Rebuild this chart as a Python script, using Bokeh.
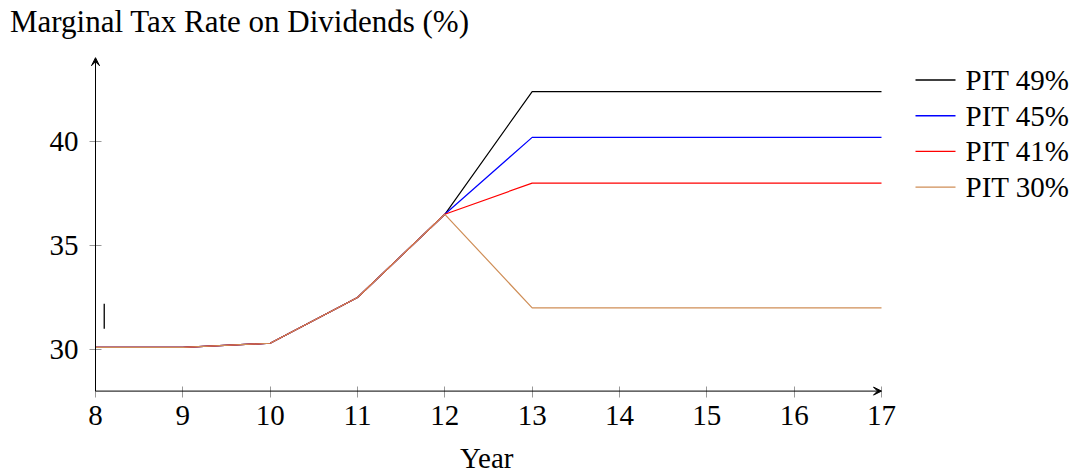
from bokeh.plotting import figure
from bokeh.models import (Range1d, FixedTicker, Arrow, VeeHead, Div)
from bokeh.core.properties import value
from bokeh.layouts import column
from bokeh.embed import file_html
from bokeh.resources import INLINE

years = [8, 9, 10, 11, 12, 13, 14, 15, 16, 17]
pit49 = [30.1, 30.1, 30.3, 32.5, 36.5, 42.4, 42.4, 42.4, 42.4, 42.4]
pit45 = [30.1, 30.1, 30.3, 32.5, 36.5, 40.2, 40.2, 40.2, 40.2, 40.2]
pit41 = [30.1, 30.1, 30.3, 32.5, 36.5, 38.0, 38.0, 38.0, 38.0, 38.0]
pit30 = [30.1, 30.1, 30.3, 32.5, 36.5, 32.0, 32.0, 32.0, 32.0, 32.0]
series_names = ["PIT 49%", "PIT 45%", "PIT 41%", "PIT 30%"]
series_colors = ["#000000", "#0000FF", "#FF0000", "#CF8E57"]
x_ticks = [8, 9, 10, 11, 12, 13, 14, 15, 16, 17]
y_ticks = [30, 35, 40]
stray_x = [8.1]
stray_y0 = [31.0]
stray_y1 = [32.2]
title_text = "Marginal Tax Rate on Dividends (%)"
x_label = "Year"

FONT = "Liberation Serif"
FS = "29px"

W = 1074
TITLE_H = 45
FIG_TOP = TITLE_H
FIG_BOTTOM = 440
x_min, x_max = 8, 17
y_min, y_top = 28, 44.03
px_x = 786 / 9.0
px_y = 20.8
F_LEFT, F_TOP, F_BOTTOM = 90, 53, 396
# legend layout (page pixels)
LEG_X0, LEG_X1, LEG_TX = 915, 955, 965
LEG_ROW0, ROW_H = 79.5, 35.7


def px_to_x(px):
    return x_min + (px - 95) / px_x


def py_to_y(py):
    return 30 + (349 - py) / px_y


p = figure(width=W, height=FIG_BOTTOM - FIG_TOP, output_backend="svg", toolbar_location=None,
           x_range=Range1d(px_to_x(F_LEFT), px_to_x(W)),
           y_range=Range1d(py_to_y(F_BOTTOM), py_to_y(F_TOP)),
           min_border_left=F_LEFT, min_border_right=0, min_border_top=F_TOP - FIG_TOP,
           min_border_bottom=FIG_BOTTOM - F_BOTTOM, margin=0)
p.outline_line_color = None
p.grid.visible = False
p.background_fill_color = "white"
p.border_fill_color = "white"

for ax in (p.xaxis[0], p.yaxis[0]):
    ax.axis_line_color = None
    ax.major_tick_line_color = "#999999"
    ax.major_tick_line_width = 1
    ax.minor_tick_line_color = None
    ax.major_label_text_font = FONT
    ax.major_label_text_font_size = FS
    ax.major_label_text_color = "black"
p.xaxis.ticker = FixedTicker(ticks=x_ticks)
p.yaxis.ticker = FixedTicker(ticks=y_ticks)
p.yaxis.major_tick_in = 11
p.yaxis.major_tick_out = 1
p.xaxis.major_tick_in = 10
p.xaxis.major_tick_out = 1
p.xaxis.major_label_standoff = 8
p.yaxis.major_label_standoff = 11

series = [pit49, pit45, pit41, pit30]
for vals, col in zip(series, series_colors):
    p.line(years, vals, line_color=col, line_width=1.2)

p.segment(x0=stray_x, y0=stray_y0, x1=stray_x, y1=stray_y1, line_color="black", line_width=1.3)

# legend (outside the axes, at the right)
rows = [py_to_y(LEG_ROW0 + ROW_H * i) for i in range(len(series_names))]
p.segment(x0=[px_to_x(LEG_X0)] * len(rows), y0=rows,
          x1=[px_to_x(LEG_X1)] * len(rows), y1=rows,
          line_color=series_colors, line_width=1.4)
p.text(x=[px_to_x(LEG_TX)] * len(rows), y=rows, text=series_names,
       text_font=value(FONT), text_font_size=value(FS), text_color="black",
       text_baseline="middle", text_align="left")

p.add_layout(Arrow(end=VeeHead(size=8, line_color="black", line_width=1, fill_color="black"),
                   x_start=x_min, y_start=y_min, x_end=x_max, y_end=y_min,
                   line_color="black", line_width=1))
p.add_layout(Arrow(end=VeeHead(size=8, line_color="black", line_width=1, fill_color="black"),
                   x_start=x_min, y_start=y_min, x_end=x_min, y_end=y_top,
                   line_color="black", line_width=1))

text_style = {"font-family": FONT, "line-height": "32px",
              "color": "black", "white-space": "nowrap", "margin": "0"}
title_div = Div(text=title_text, width=W, height=TITLE_H, margin=0,
                styles=dict(text_style, **{"font-size": "31px", "padding-left": "10px",
                                           "padding-top": "6px"}))
xlabel_div = Div(text=x_label, width=W, height=34, margin=0,
                 styles=dict(text_style, **{"font-size": FS, "padding-left": "460px",
                                            "padding-top": "2px"}))

layout = column(title_div, p, xlabel_div, spacing=0, margin=0)
open("out.html", "w").write(file_html(layout, INLINE))
